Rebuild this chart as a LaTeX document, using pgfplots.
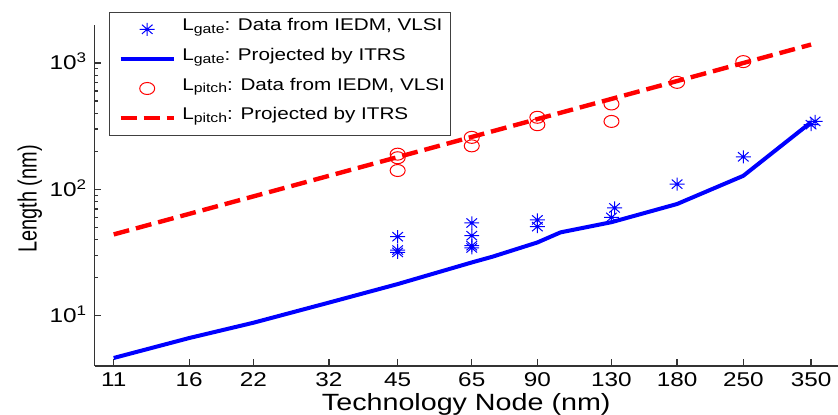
\documentclass[border=0pt]{standalone}
\usepackage{fontspec}
\setmainfont{Liberation Sans}[FakeStretch=1.22]
\newfontfamily\plainfont{Liberation Sans}
\usepackage{graphicx}
\usepackage{pgfplots}
\pgfplotsset{compat=1.18}

\pgfdeclareplotmark{mstar}{%
 \pgfpathmoveto{\pgfqpoint{-\pgfplotmarksize}{0pt}}\pgfpathlineto{\pgfqpoint{\pgfplotmarksize}{0pt}}%
 \pgfpathmoveto{\pgfqpoint{0pt}{-\pgfplotmarksize}}\pgfpathlineto{\pgfqpoint{0pt}{\pgfplotmarksize}}%
 \pgfpathmoveto{\pgfqpoint{-.7071\pgfplotmarksize}{-.7071\pgfplotmarksize}}\pgfpathlineto{\pgfqpoint{.7071\pgfplotmarksize}{.7071\pgfplotmarksize}}%
 \pgfpathmoveto{\pgfqpoint{-.7071\pgfplotmarksize}{.7071\pgfplotmarksize}}\pgfpathlineto{\pgfqpoint{.7071\pgfplotmarksize}{-.7071\pgfplotmarksize}}%
 \pgfusepathqstroke}

\newcommand{\sub}[1]{\raisebox{-1.3bp}{\fontsize{6.5}{7}\selectfont #1}}

\begin{document}
\begin{tikzpicture}
\begin{axis}[
 name=ax,
 scale only axis, width=371.75bp, height=170.5bp,
 xmode=log, ymode=log,
 xmin=10, xmax=400, ymin=4, ymax=2000,
 axis lines=left, axis line style={-, line width=0.8bp, black!80},
 tick align=inside,
 major tick length=3.5bp, minor tick length=2bp,
 tick style={black!80, line width=0.6bp},
 xtick={11,16,22,32,45,65,90,130,180,250,350},
 xticklabels={11,16,22,32,45,65,90,130,180,250,350},
 xminorticks=false,
 ytick={10,100,1000},
 yticklabels={{10\smash{\textsuperscript{1}}},{10\smash{\textsuperscript{2}}},{10\smash{\textsuperscript{3}}}},
 xticklabel style={font=\fontsize{10}{12}\selectfont, anchor=base, yshift=-10.35bp, inner sep=0pt},
 yticklabel style={font=\fontsize{10}{12}\selectfont, anchor=east, xshift=-3.5bp, inner sep=0pt},
 xlabel={Technology Node (nm)},
 xlabel style={font=\fontsize{11.8}{13}\selectfont, at={(axis description cs:0.5,0)}, anchor=base, yshift=-22.35bp, inner sep=0pt},
 ylabel={\scalebox{1}[1.32]{\plainfont Length (nm)}},
 ylabel style={font=\fontsize{10}{12}\selectfont, at={(axis description cs:-0.087,0.49)}, anchor=center},
 legend image code/.code={\path (-1.5bp,0bp); \draw[mark repeat=2,mark phase=2,#1] plot coordinates {(0bp,0bp) (13.25bp,0bp) (26.5bp,0bp)};},
 legend style={at={(axis description cs:0.0195,1.039)}, anchor=north west, draw=black!75, line width=0.5bp, fill=white,
   inner xsep=3bp, inner ysep=2.4bp, row sep=2.5bp, font=\fontsize{8.5}{10}\selectfont,
   nodes={inner sep=0pt, text height=7bp, text depth=5.3bp},
   /tikz/every odd column/.append style={column sep=3.2bp}},
 legend cell align=left,
]
\addplot[only marks, mark=mstar, mark size=3.25bp, color=blue, mark options={xscale=1.15, line width=0.5bp}] coordinates {
 (45,42.2) (45,33.1) (45,31.7)
 (65,54.2) (65,43.0) (65,35.8) (65,34.4)
 (90,57.3) (90,50.7)
 (132,71.3) (130,60.0)
 (180,110) (250,181) (350,325) (357,345)
};
\addlegendentry{L\sub{gate}: Data from IEDM, VLSI}
\addplot[color=blue, line width=2bp, no marks] coordinates {
 (11,4.63) (16,6.66) (22,8.8) (32,12.7) (45,17.8) (65,26.4) (72,29.3) (90,38.0) (101,45.7) (130,55) (180,76.6) (250,128) (350,340)
};
\addlegendentry{L\sub{gate}: Projected by ITRS}
\addplot[only marks, mark=o, mark size=3bp, color=red, mark options={xscale=1.25, line width=0.5bp}] coordinates {
 (45,190) (45,178) (45,141)
 (65,258) (65,221)
 (90,372) (90,325)
 (130,474) (130,345)
 (180,703) (250,1026)
};
\addlegendentry{L\sub{pitch}: Data from IEDM, VLSI}
\addplot[color=red, line width=2.2bp, dash pattern=on 8bp off 3.5bp, no marks] coordinates {
 (11,44) (16,64) (22,88) (32,128) (45,180) (65,260) (90,360) (130,520) (180,720) (250,1000) (350,1400)
};
\addlegendentry{L\sub{pitch}: Projected by ITRS}
\end{axis}
\pgfresetboundingbox
\path[use as bounding box] ([xshift=-47.25bp,yshift=-24.5bp]ax.south west) rectangle ([yshift=12.5bp]ax.north east);
\end{tikzpicture}
\end{document}
